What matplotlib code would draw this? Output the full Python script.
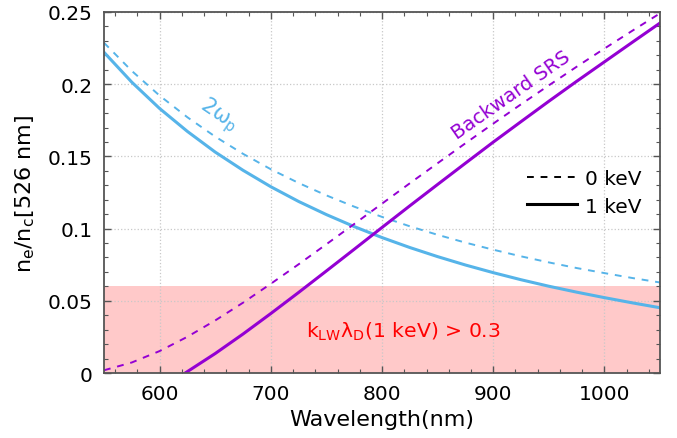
import matplotlib
matplotlib.use("Agg")
import matplotlib.pyplot as plt
from matplotlib.ticker import MultipleLocator, FixedLocator
from matplotlib.lines import Line2D

plt.rcParams['font.family'] = ['DejaVu Sans']
plt.rcParams['mathtext.default'] = 'regular'

# ---- data ----
wl = [550, 575, 600, 625, 650, 675, 700, 725, 750, 775, 800,
      825, 850, 875, 900, 925, 950, 975, 1000, 1025, 1050]

tpd_0kev = [0.2287, 0.2092, 0.1921, 0.1771, 0.1637, 0.1518, 0.1411, 0.1316,
            0.1230, 0.1152, 0.1081, 0.1016, 0.0957, 0.0903, 0.0854, 0.0808,
            0.0766, 0.0727, 0.0692, 0.0658, 0.0627]
tpd_1kev = [0.2221, 0.2014, 0.1832, 0.1673, 0.1530, 0.1404, 0.1290, 0.1188,
            0.1097, 0.1014, 0.0938, 0.0869, 0.0806, 0.0748, 0.0695, 0.0646,
            0.0601, 0.0560, 0.0522, 0.0486, 0.0452]

srs_0kev = [0.0019, 0.0073, 0.0152, 0.0251, 0.0364, 0.0487, 0.0618, 0.0753,
            0.0892, 0.1032, 0.1173, 0.1314, 0.1453, 0.1591, 0.1727, 0.1861,
            0.1992, 0.2121, 0.2247, 0.2370, 0.2491]

wl_srs1 = [623, 625, 650, 675, 700, 725, 750, 775, 800, 825, 850,
           875, 900, 925, 950, 975, 1000, 1025, 1050]
srs_1kev = [0.0, 0.0010, 0.0135, 0.0270, 0.0412, 0.0558, 0.0707, 0.0857,
            0.1008, 0.1158, 0.1306, 0.1453, 0.1599, 0.1741, 0.1882, 0.2020,
            0.2155, 0.2290, 0.2424]

shade_top = 0.06
yticks = [0, 0.05, 0.1, 0.15, 0.2, 0.25]
ytick_labels = ['0', '0.05', '0.1', '0.15', '0.2', '0.25']
xticks = [600, 700, 800, 900, 1000]

blue = '#56B4E9'
purple = '#9400D3'

fig = plt.figure(figsize=(6.77, 4.39), dpi=100)
ax = fig.add_axes([0.1536, 0.148, 0.8214, 0.8224])

ax.axhspan(0, shade_top, color='#ffc9c9', zorder=0, lw=0)

ax.plot(wl, tpd_0kev, color=blue, lw=1.4, ls=(0, (3.5, 3.5)))
ax.plot(wl, tpd_1kev, color=blue, lw=2.2)
ax.plot(wl, srs_0kev, color=purple, lw=1.4, ls=(0, (3.5, 3.5)))
ax.plot(wl_srs1, srs_1kev, color=purple, lw=2.2)

ax.set_xlim(550, 1050)
ax.set_ylim(0, 0.25)
ax.xaxis.set_major_locator(FixedLocator(xticks))
ax.xaxis.set_minor_locator(MultipleLocator(20))
ax.yaxis.set_major_locator(FixedLocator(yticks))
ax.set_yticklabels(ytick_labels)
ax.yaxis.set_minor_locator(MultipleLocator(0.01))

ax.tick_params(which='both', direction='in', top=True, right=True,
               color='#555555', labelsize=14.5, pad=8)
ax.tick_params(which='major', length=5, width=1.0)
ax.tick_params(which='minor', length=3, width=0.8)
for s in ax.spines.values():
    s.set_color('#555555')
    s.set_linewidth(1.3)

ax.grid(which='major', linestyle=':', color='#c8c8c8', linewidth=0.9)
ax.set_axisbelow(True)

ax.set_xlabel('Wavelength(nm)', fontsize=16, labelpad=4)
ax.set_ylabel(r'$n_e/n_c$[526 nm]', fontsize=16, labelpad=8)

ax.text(653, 0.179, r'$2\omega_p$', color=blue, fontsize=15,
        rotation=-34, ha='center', va='center')
ax.text(916, 0.193, 'Backward SRS', color=purple, fontsize=14,
        rotation=35, ha='center', va='center')
ax.text(819, 0.029, r'$k_{LW}\lambda_D$(1 keV) > 0.3', color='red',
        fontsize=14.7, ha='center', va='center')

handles = [Line2D([], [], color='black', lw=1.4, ls=(0, (3.5, 3.5))),
           Line2D([], [], color='black', lw=2.2)]
ax.legend(handles, ['0 keV', '1 keV'], loc='center right',
          bbox_to_anchor=(1.0, 0.50), frameon=False, fontsize=14.5,
          handlelength=2.5, handletextpad=0.4, labelspacing=0.4)

fig.savefig('out.png', dpi=100)
